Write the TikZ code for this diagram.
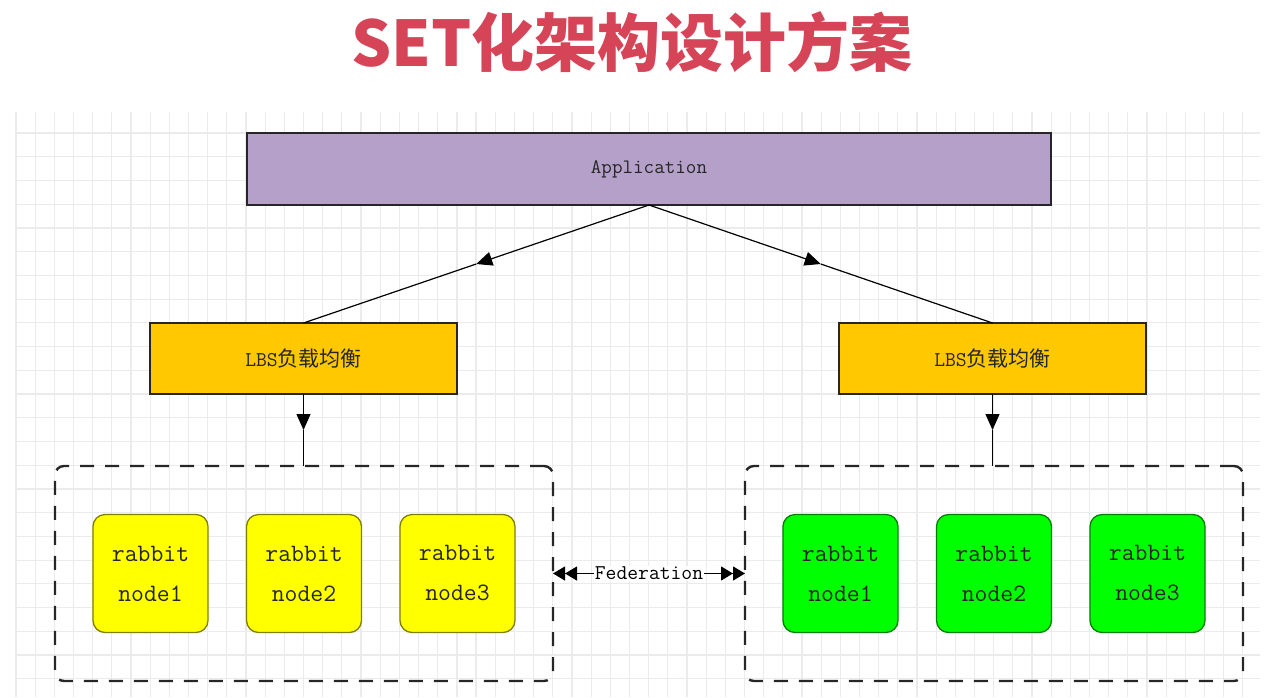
\documentclass[tikz,border=0pt]{standalone}
\usepackage{fontspec}
\newfontfamily\cjk{Noto Sans CJK SC}
\usetikzlibrary{calc, positioning, arrows.meta}
\definecolor{titlered}{HTML}{D64458}
\definecolor{appviolet}{HTML}{B5A0C9}
\definecolor{lbsorange}{HTML}{FFC800}
\definecolor{nodeyellow}{HTML}{FFFF00}
\definecolor{nodegreen}{HTML}{00FF00}
\definecolor{gridgray}{HTML}{EBEBEB}

\begin{document}
\begin{tikzpicture}[
    x=1pt, y=-1pt,
    node distance=38.5pt,
    every node/.style={outer sep=0pt, align=center},
    gridline/.style={draw=gridgray, line width=1.2pt},
    appbox/.style={draw=black!85, line width=1.3pt, fill=appviolet, minimum width=804pt, minimum height=72pt, text=black!85, font=\ttfamily\fontsize{20.5}{24}\selectfont},
    lbsbox/.style={draw=black!85, line width=1.2pt, fill=lbsorange, minimum width=307pt, minimum height=71pt, text=black!85, font=\ttfamily\fontsize{21}{25}\selectfont},
    setbox/.style={draw=black!85, line width=2.4pt, dash pattern=on 14pt off 11pt, rounded corners=9pt, minimum width=498pt, minimum height=215pt},
    rabbit/.style={draw=#1!50!black, fill=#1, line width=1.3pt, rounded corners=12pt, minimum width=115pt, minimum height=118pt, text=black!85, font=\ttfamily\fontsize{25}{40}\selectfont},
    arrow/.style={-{Triangle[length=16pt, width=14pt]}, line width=1.2pt},
    link/.style={line width=1.2pt},
    fed/.style={{Triangle[length=12pt, width=14pt]Triangle[length=12pt, width=14pt]}-{Triangle[length=12pt, width=14pt]Triangle[length=12pt, width=14pt]}, line width=1.2pt}
]
\useasboundingbox (0,0) rectangle (1264,697);

% background grid
\foreach \i in {0,...,64}
    \draw[gridline] ({16+19.17*\i},112) -- ({16+19.17*\i},697);
\foreach \j in {0,...,23}
    \draw[gridline] (16,{133+23.73*\j}) -- (1260,{133+23.73*\j});

\node[font=\cjk\bfseries\fontsize{63}{70}\selectfont, text=titlered] (title) at (632,42) {SET化架构设计方案};

\node[appbox] (app) at (649,169) {Application};
\node[lbsbox] (lbsL) at (303.5,358.5) {LBS{\cjk 负载均衡}};
\node[lbsbox] (lbsR) at (992.5,358.5) {LBS{\cjk 负载均衡}};

\node[setbox] (setL) at (304,573.5) {};
\node[setbox] (setR) at (994,573.5) {};

\node[rabbit=nodeyellow] (yel2) at (setL) {rabbit\\node2};
\node[rabbit=nodeyellow, left=of yel2] (yel1) {rabbit\\node1};
\node[rabbit=nodeyellow, right=of yel2] (yel3) {rabbit\\node3};

\node[rabbit=nodegreen] (grn2) at (setR) {rabbit\\node2};
\node[rabbit=nodegreen, left=of grn2] (grn1) {rabbit\\node1};
\node[rabbit=nodegreen, right=of grn2] (grn3) {rabbit\\node3};

\coordinate (midL) at ($(app.south)!0.5!(lbsL.north)$);
\coordinate (midR) at ($(app.south)!0.5!(lbsR.north)$);
\coordinate (downL) at ($(lbsL.south)!0.5!(lbsL.south |- setL.north)$);
\coordinate (downR) at ($(lbsR.south)!0.5!(lbsR.south |- setR.north)$);

\draw[arrow] (app.south) -- (midL);
\draw[link] (midL) -- (lbsL.north);
\draw[arrow] (app.south) -- (midR);
\draw[link] (midR) -- (lbsR.north);

\draw[arrow] (lbsL.south) -- (downL);
\draw[link] (downL) -- (lbsL.south |- setL.north);
\draw[arrow] (lbsR.south) -- (downR);
\draw[link] (downR) -- (lbsR.south |- setR.north);

\draw[fed] (setL.east) -- (setR.west) node[midway, fill=white, inner sep=1pt, font=\ttfamily\fontsize{21}{25}\selectfont] (fedlabel) {Federation};

\end{tikzpicture}
\end{document}
